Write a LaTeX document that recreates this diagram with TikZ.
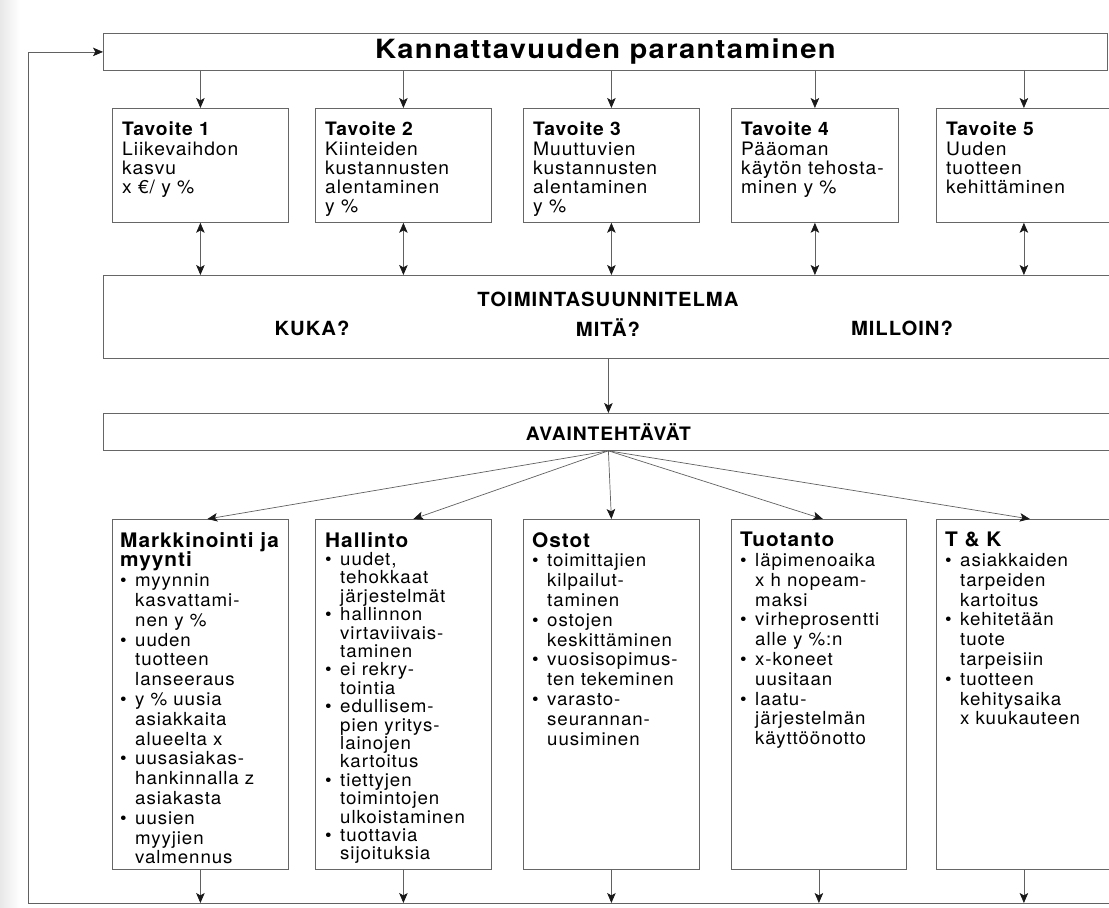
\documentclass[tikz,border=0pt]{standalone}
\usepackage{fontspec}
\setmainfont{TeX Gyre Heros}[FakeStretch=1.04,LetterSpace=5]
\newfontfamily\titlefont{TeX Gyre Heros}[FakeStretch=1.1,LetterSpace=5]
\usetikzlibrary{arrows.meta}

% bullet and continuation indent for the task lists
\newcommand\bul{\makebox[15pt][l]{\fontsize{18}{18}\selectfont\textbullet}}
\newcommand\cont{\hspace*{15pt}}
\newcommand\boxhead{\fontsize{20}{19.8}\selectfont\bfseries}

\begin{document}
\begin{tikzpicture}[x=1pt,y=-1pt,
  frame/.style={draw=black!60, line width=0.8pt, rectangle, inner sep=0pt, anchor=north west},
  link/.style={draw=black!62, line width=0.7pt},
  tip/.style={-{Stealth[length=10pt,width=8.5pt,inset=2.4pt,color=black!90]}},
  both/.style={{Stealth[length=10pt,width=8.5pt,inset=2.4pt,color=black!90]}-{Stealth[length=10pt,width=8.5pt,inset=2.4pt,color=black!90]}},
  goaltxt/.style={anchor=north west, inner sep=0pt, align=left, text=black,
    font=\fontsize{18.5}{19.2}\selectfont},
  tasktxt/.style={anchor=north west, inner sep=0pt, align=left, text=black,
    font=\fontsize{18}{19.8}\selectfont},
  captxt/.style={inner sep=0pt, text=black, font=\fontsize{19.5}{19.5}\selectfont\bfseries}
]
\useasboundingbox (0,0) rectangle (1109,908);
\clip (0,0) rectangle (1109,908);
\fill[white] (0,0) rectangle (1109,908);
\shade[left color=black!9, right color=white] (0,0) rectangle (20,908);

% main goal
\node[frame, minimum width=1004pt, minimum height=37pt, text=black,
  font=\titlefont\fontsize{26.5}{26.5}\selectfont\bfseries] (title) at (103,33) {Kannattavuuden parantaminen};

% sub-goals
\node[frame, minimum width=176pt, minimum height=114pt] (g1) at (112,108) {};
\node[frame, minimum width=176pt, minimum height=114pt] (g2) at (315,108) {};
\node[frame, minimum width=176pt, minimum height=114pt] (g3) at (523,108) {};
\node[frame, minimum width=167pt, minimum height=114pt] (g4) at (731,108) {};
\node[frame, minimum width=175pt, minimum height=114pt] (g5) at (936,108) {};

\node[goaltxt] (g1t) at (122,122) {\textbf{Tavoite 1}\\Liikevaihdon\\kasvu\\x €/ y \%};
\node[goaltxt] (g2t) at (325,122) {\textbf{Tavoite 2}\\Kiinteiden\\kustannusten\\alentaminen\\y \%};
\node[goaltxt] (g3t) at (533,122) {\textbf{Tavoite 3}\\Muuttuvien\\kustannusten\\alentaminen\\y \%};
\node[goaltxt] (g4t) at (741,122) {\textbf{Tavoite 4}\\Pääoman\\käytön tehosta-\\minen y \%};
\node[goaltxt] (g5t) at (946,122) {\textbf{Tavoite 5}\\Uuden\\tuotteen\\kehittäminen};

% action plan
\node[frame, minimum width=1010pt, minimum height=83pt] (plan) at (103,275) {};
\node[captxt] (plant) at (608,299) {TOIMINTASUUNNITELMA};
\node[captxt] (who) at (312,328) {KUKA?};
\node[captxt] (what) at (608,328) {MITÄ?};
\node[captxt] (when) at (902,328) {MILLOIN?};

% key tasks
\node[frame, minimum width=1010pt, minimum height=37pt,
  font=\fontsize{18.5}{18.5}\selectfont\bfseries, text=black] (avain) at (103,413) {AVAINTEHTÄVÄT};

% task areas
\node[frame, minimum width=176pt, minimum height=350pt] (b1) at (112,519) {};
\node[frame, minimum width=176pt, minimum height=350pt] (b2) at (315,519) {};
\node[frame, minimum width=176pt, minimum height=350pt] (b3) at (523,519) {};
\node[frame, minimum width=175pt, minimum height=350pt] (b4) at (731,519) {};
\node[frame, minimum width=175pt, minimum height=350pt] (b5) at (936,519) {};

\node[tasktxt] (b1t) at (120,532) {{\boxhead Markkinointi ja}\\{\boxhead myynti}\\
\bul myynnin\\\cont kasvattami-\\\cont nen y \%\\
\bul uuden\\\cont tuotteen\\\cont lanseeraus\\
\bul y \% uusia\\\cont asiakkaita\\\cont alueelta x\\
\bul uusasiakas-\\\cont hankinnalla z\\\cont asiakasta\\
\bul uusien\\\cont myyjien\\\cont valmennus};
\node[tasktxt, font=\fontsize{18}{18.4}\selectfont] (b2t) at (325,532) {{\boxhead Hallinto}\\
\bul uudet,\\\cont tehokkaat\\\cont järjestelmät\\
\bul hallinnon\\\cont virtaviivais-\\\cont taminen\\
\bul ei rekry-\\\cont tointia\\
\bul edullisem-\\\cont pien yritys-\\\cont lainojen\\\cont kartoitus\\
\bul tiettyjen\\\cont toimintojen\\\cont ulkoistaminen\\
\bul tuottavia\\\cont sijoituksia};
\node[tasktxt] (b3t) at (532,532) {{\boxhead Ostot}\\
\bul toimittajien\\\cont kilpailut-\\\cont taminen\\
\bul ostojen\\\cont keskittäminen\\
\bul vuosisopimus-\\\cont ten tekeminen\\
\bul varasto-\\\cont seurannan-\\\cont uusiminen};
\node[tasktxt] (b4t) at (740,532) {{\boxhead Tuotanto}\\
\bul läpimenoaika\\\cont x h nopeam-\\\cont maksi\\
\bul virheprosentti\\\cont alle y \%:n\\
\bul x-koneet\\\cont uusitaan\\
\bul laatu-\\\cont järjestelmän\\\cont käyttöönotto};
\node[tasktxt] (b5t) at (945,532) {{\boxhead T \& K}\\
\bul asiakkaiden\\\cont tarpeiden\\\cont kartoitus\\
\bul kehitetään\\\cont tuote\\\cont tarpeisiin\\
\bul tuotteen\\\cont kehitysaika\\\cont x kuukauteen};

% entry points of the fan arrows on the task boxes
\coordinate (b1in) at ([xshift=7pt]b1.north);
\coordinate (b2in) at ([xshift=10pt]b2.north);
\coordinate (b3in) at (b3.north);
\coordinate (b4in) at ([xshift=4pt]b4.north);
\coordinate (b5in) at ([xshift=6pt]b5.north);

% feedback loop corners
\coordinate (fbL) at (28,903);
\coordinate (fbR) at (1115,903);

% connectors
\foreach \g in {g1,g2,g3,g4,g5}{
  \draw[link,tip] (title.south -| \g.north) -- (\g.north);
  \draw[link,both] (\g.south) -- (\g.south |- plan.north);
}
\draw[link,tip] (plan.south -| avain.north) -- (avain.north);
\foreach \b in {b1,b2,b3,b4,b5}{
  \draw[link,tip] (avain.south) -- (\b in);
  \draw[link,tip] (\b.south) -- (\b.south |- fbL);
}
\draw[link,tip] (fbR) -- (fbL) |- (title.west);
\end{tikzpicture}
\end{document}
